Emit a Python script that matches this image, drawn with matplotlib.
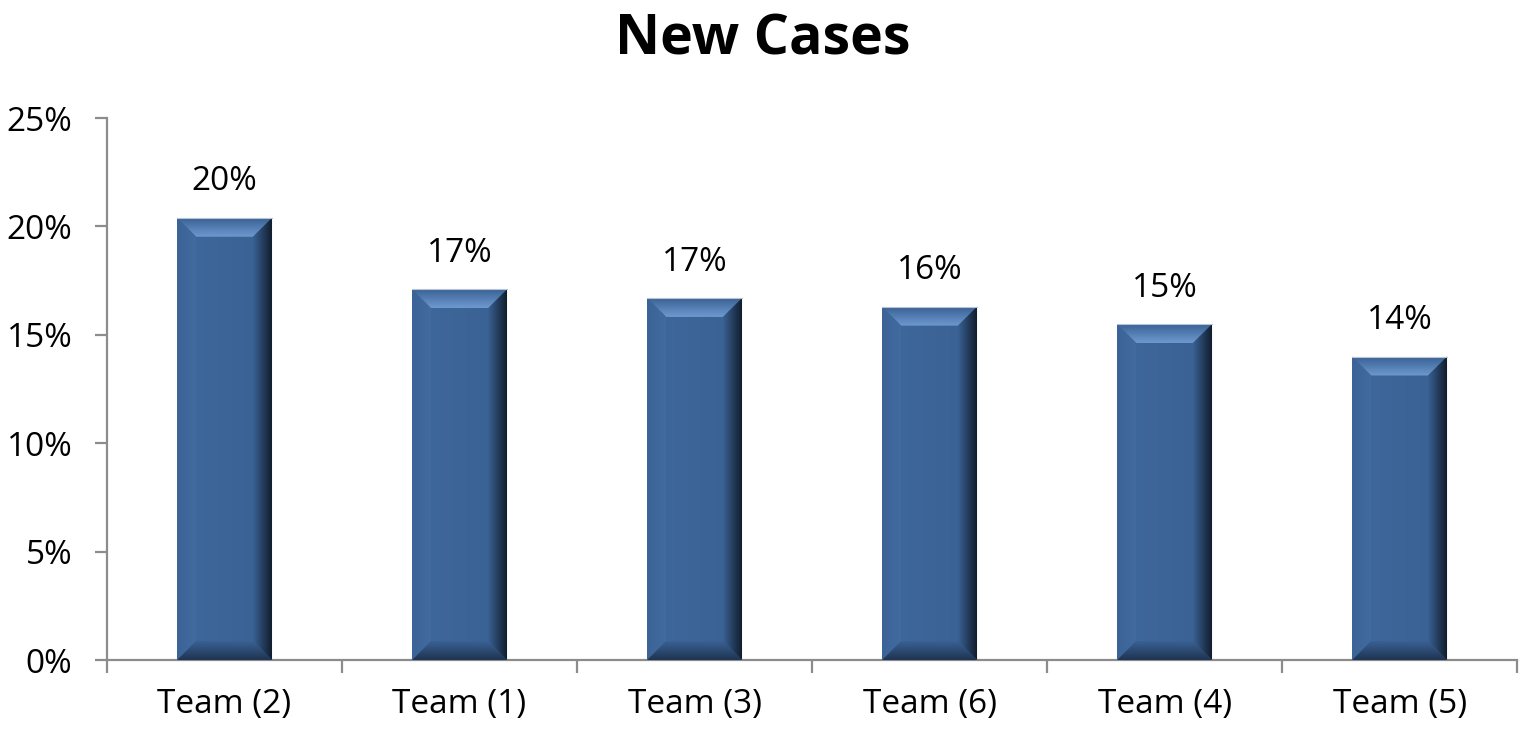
import numpy as np
import matplotlib.pyplot as plt
from matplotlib.colors import to_rgb
from matplotlib.patches import Polygon
from matplotlib.ticker import FuncFormatter, FixedLocator

# data
teams = ["Team (2)", "Team (1)", "Team (3)", "Team (6)", "Team (4)", "Team (5)"]
values = [20.4, 17.1, 16.7, 16.3, 15.5, 14.0]   # percent
labels = ["20%", "17%", "17%", "16%", "15%", "14%"]

plt.rcParams["font.family"] = ["Open Sans", "DejaVu Sans"]

fig = plt.figure(figsize=(15.25, 7.34), dpi=100, facecolor="white")
ax = fig.add_axes([0.0702, 0.1008, 0.9246, 0.7384])

x = np.arange(len(teams))
width = 0.404
base = "#3e6699"
bars = ax.bar(x, values, width=width, color=base, edgecolor="none", zorder=2)

ax.set_xlim(-0.5, len(teams) - 0.5)
ax.set_ylim(0, 25)

# bevel size ~19 px, in data units
bx = 19 / 235.0
by = 19 / 21.68


def grad_patch(poly, direction, c0, c1, z=3):
    # polygon filled with a linear gradient (c0 -> c1 along x or y)
    pts = np.array(poly)
    x0, x1 = pts[:, 0].min(), pts[:, 0].max()
    y0, y1 = pts[:, 1].min(), pts[:, 1].max()
    c0 = np.array(to_rgb(c0))
    c1 = np.array(to_rgb(c1))
    t = np.linspace(0, 1, 64)[:, None]
    ramp = c0[None, :] * (1 - t) + c1[None, :] * t
    img = ramp[None, :, :] if direction == "h" else ramp[:, None, :]
    im = ax.imshow(img, extent=[x0, x1, y0, y1], origin="lower",
                   aspect="auto", interpolation="bilinear", zorder=z)
    p = Polygon(poly, closed=True, facecolor="none", edgecolor="none",
                transform=ax.transData)
    ax.add_patch(p)
    im.set_clip_path(p)


for b in bars:
    l = b.get_x()
    r = l + b.get_width()
    t = b.get_height()
    # body, soft horizontal shading
    grad_patch([(l, 0), (r, 0), (r, t), (l, t)], "h", "#3f689c", "#3a6193", z=2.5)
    # top bevel: light inner -> darker top edge
    grad_patch([(l, t), (r, t), (r - bx, t - by), (l + bx, t - by)], "v",
               "#6e99d0", "#3a6296")
    # left bevel
    grad_patch([(l, 0), (l, t), (l + bx, t - by), (l + bx, by)], "h",
               "#3b6396", "#426ba0")
    # bottom bevel
    grad_patch([(l, 0), (r, 0), (r - bx, by), (l + bx, by)], "v",
               "#1e3451", "#3a6194")
    # right bevel: dark at outer edge
    grad_patch([(r, t), (r, 0), (r - bx, by), (r - bx, t - by)], "h",
               "#3a6193", "#0f1a29")
    # thin light rim on top
    ax.plot([l, r], [t, t], color="#b8c4d4", lw=0.8, zorder=4)

for xi, v, lab in zip(x, values, labels):
    ax.annotate(lab, (xi, v), xytext=(0, 14), textcoords="offset points",
                ha="center", va="bottom", fontsize=24, color="black")

fig.text(0.5, 0.945, "New Cases", fontsize=40, fontweight="bold",
         ha="center", va="center")

ax.yaxis.set_major_locator(FixedLocator([0, 5, 10, 15, 20, 25]))
ax.yaxis.set_major_formatter(FuncFormatter(lambda v, p: f"{v:.0f}%"))
ax.set_xticks(np.arange(-0.5, len(teams) + 0.5, 1.0))
ax.set_xticklabels([])
ax.set_xticks(x, minor=True)
ax.set_xticklabels(teams, minor=True)
ax.tick_params(axis="x", which="minor", length=0, pad=20, labelsize=24)
ax.tick_params(axis="x", which="major", length=9, width=1.6, color="#8c8c8c")
ax.tick_params(axis="y", length=9, width=1.6, color="#8c8c8c", labelsize=24, pad=16)

for s in ["top", "right"]:
    ax.spines[s].set_visible(False)
for s in ["left", "bottom"]:
    ax.spines[s].set_color("#8c8c8c")
    ax.spines[s].set_linewidth(1.6)

fig.savefig("out.png", dpi=100, facecolor="white")
